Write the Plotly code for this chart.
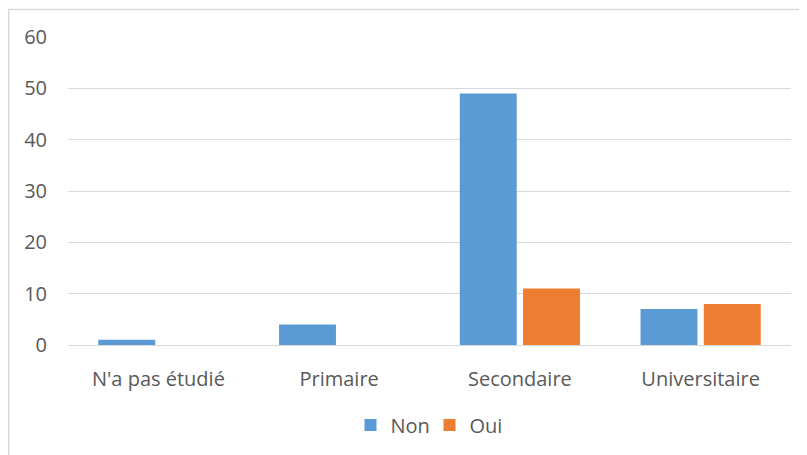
import plotly.graph_objects as go

categories = ["N'a pas étudié", "Primaire", "Secondaire", "Universitaire"]
non_values = [1, 4, 49, 7]
oui_values = [0, 0, 11, 8]
y_ticks = [0, 10, 20, 30, 40, 50, 60]

font_family = "'Open Sans', 'Noto Sans', sans-serif"
text_color = "#595959"
grid_color = "#D9D9D9"
fs = 20

fig = go.Figure()
fig.add_trace(go.Bar(name="Non", x=categories, y=non_values,
                     marker=dict(color="#5B9BD5", line=dict(width=0))))
fig.add_trace(go.Bar(name="Oui", x=categories, y=oui_values,
                     marker=dict(color="#ED7D31", line=dict(width=0))))

# page body has an 8px margin, so the figure is laid out in shifted coordinates
OFF = 8
W, H = 807 - OFF, 455 - OFF
L, R, T, B = 68 - OFF, 16, 37 - OFF, 455 - 346
pw, ph = W - L - R, H - T - B

def px_x(px):
    return (px - OFF - L) / pw

def px_y(py):
    return (H - B - (py - OFF)) / ph

fig.update_layout(
    width=W, height=H,
    margin=dict(l=L, r=R, t=T, b=B),
    paper_bgcolor="white", plot_bgcolor="white",
    barmode="group", bargap=0.30, bargroupgap=0.10,
    font=dict(family=font_family, size=fs, color=text_color),
    showlegend=True,
    legend=dict(orientation="h", x=0.5, xanchor="center",
                y=px_y(425), yanchor="middle",
                font=dict(size=fs, color=text_color),
                itemwidth=30, traceorder="normal",
                entrywidth=34, entrywidthmode="pixels"),
    xaxis=dict(showgrid=False, showline=False, ticks="",
               ticklabelstandoff=20, tickfont=dict(size=fs, color=text_color)),
    yaxis=dict(range=[0, 60], tickvals=y_ticks, showgrid=True,
               gridcolor=grid_color, gridwidth=1,
               zeroline=True, zerolinecolor=grid_color, zerolinewidth=1,
               showline=False, ticks="", ticklabelstandoff=20,
               tickfont=dict(size=fs, color=text_color)),
    shapes=[dict(type="rect", xref="paper", yref="paper",
                 x0=px_x(8.8), x1=px_x(830), y0=px_y(480), y1=px_y(9.5),
                 line=dict(color=grid_color, width=1.5), layer="below")],
)

fig.write_html("out.html")
